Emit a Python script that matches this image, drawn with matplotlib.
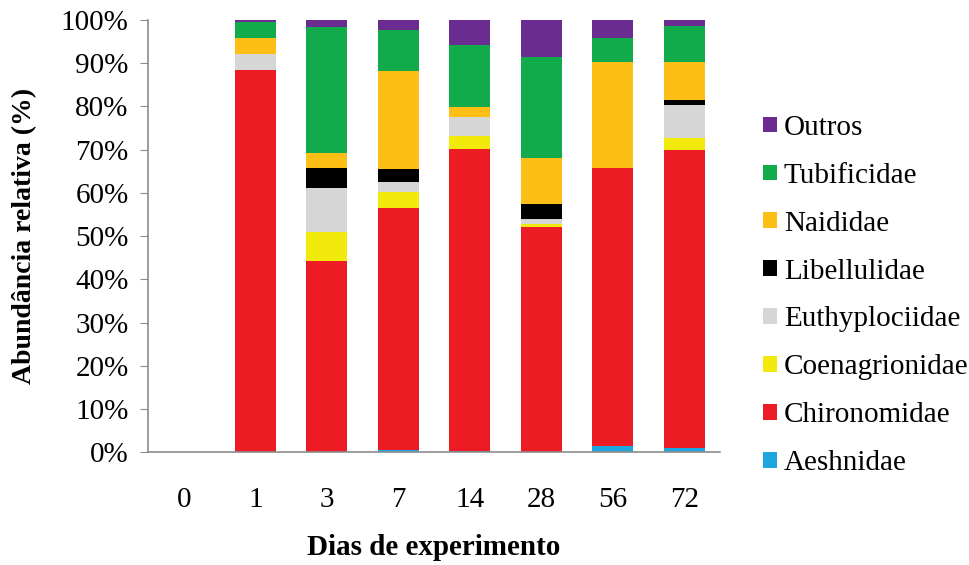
import matplotlib
matplotlib.use("Agg")
import matplotlib.pyplot as plt
import numpy as np

days = ["0", "1", "3", "7", "14", "28", "56", "72"]
families = ["Aeshnidae", "Chironomidae", "Coenagrionidae", "Euthyplociidae",
            "Libellulidae", "Naididae", "Tubificidae", "Outros"]
aeshnidae      = [0, 0.0, 0.0, 0.5, 0.4, 0.0, 1.5, 1.1]
chironomidae   = [0, 88.4, 44.3, 56.1, 69.8, 52.0, 64.2, 68.8]
coenagrionidae = [0, 0.0, 6.6, 3.5, 3.0, 0.8, 0.0, 2.7]
euthyplociidae = [0, 3.7, 10.2, 2.4, 4.4, 1.1, 0.0, 7.7]
libellulidae   = [0, 0.0, 4.6, 3.0, 0.0, 3.5, 0.0, 1.2]
naididae       = [0, 3.8, 3.6, 22.7, 2.2, 10.7, 24.5, 8.7]
tubificidae    = [0, 3.7, 29.0, 9.5, 14.4, 23.3, 5.7, 8.5]
outros         = [0, 0.4, 1.7, 2.3, 5.8, 8.6, 4.1, 1.3]

series = [aeshnidae, chironomidae, coenagrionidae, euthyplociidae,
          libellulidae, naididae, tubificidae, outros]
colors = ["#1EA6DF", "#ED1C24", "#F2EA0A", "#D6D6D6",
          "#000000", "#FDBE16", "#12AB4B", "#6A2C91"]

plt.rcParams['font.family'] = ['Liberation Serif', 'DejaVu Serif']

fig = plt.figure(figsize=(9.7, 5.65), dpi=100)
ax = fig.add_axes([0.1526, 0.1995, 0.5897, 0.7651])

x = np.arange(len(days))
bottom = np.zeros(len(days))
handles = []
for vals, col, name in zip(series, colors, families):
    v = np.array(vals, dtype=float)
    h = ax.bar(x, v, width=0.57, bottom=bottom, color=col, label=name,
               edgecolor='none')
    handles.append(h)
    bottom += v

ax.set_xlim(-0.5, len(days) - 0.5)
ax.set_ylim(0, 100)
ax.set_yticks(np.arange(0, 101, 10))
ax.set_yticklabels([f"{t}%" for t in range(0, 101, 10)])
ax.set_xticks(x)
ax.set_xticklabels(days)
for s in ['top', 'right']:
    ax.spines[s].set_visible(False)
for s in ['left', 'bottom']:
    ax.spines[s].set_color('#8C8C8C')
    ax.spines[s].set_linewidth(1.2)
ax.tick_params(axis='y', direction='out', length=6, color='#8C8C8C',
               labelsize=21, pad=8)
ax.tick_params(axis='x', length=0, labelsize=21, pad=25)

ax.set_xlabel("Dias de experimento", fontsize=21, fontweight='bold')
ax.xaxis.set_label_coords(0.5, -0.19)
ax.set_ylabel("Abundância relativa (%)", fontsize=20, fontweight='bold')
ax.yaxis.set_label_coords(-0.193, 0.5)

leg = fig.legend(handles[::-1], families[::-1], loc='center left',
                 bbox_to_anchor=(0.787, 0.477), frameon=False, fontsize=21,
                 handlelength=0.45, handleheight=0.45, handletextpad=0.25,
                 labelspacing=0.75, borderaxespad=0, borderpad=0)

fig.savefig("out.png", dpi=100)
